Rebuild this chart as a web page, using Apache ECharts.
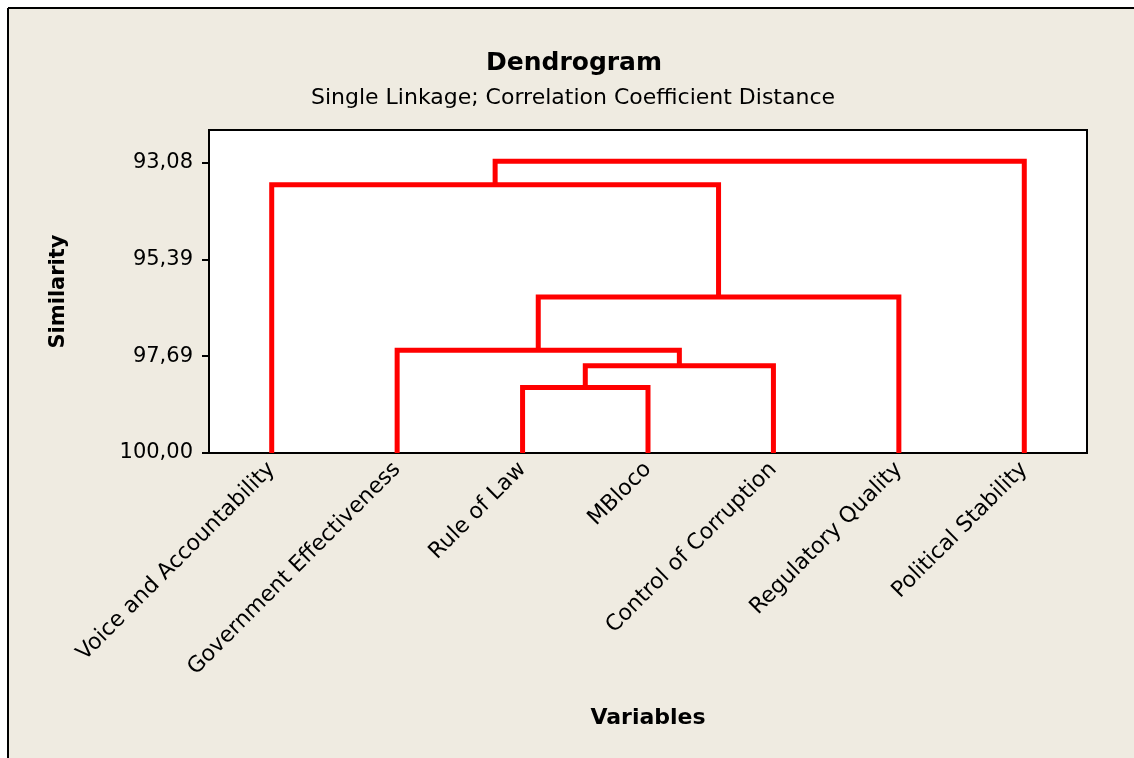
<!DOCTYPE html>
<html>
<head>
<meta charset="utf-8">
<title>Dendrogram</title>
<script src="https://cdn.jsdelivr.net/npm/echarts@6.0.0/dist/echarts.min.js"></script>
<style>
    html, body { margin: 0; padding: 0; background: #fff; }
    #chart { width: 1134px; height: 758px; }
</style>
</head>
<body>
<div id="chart"></div>
<script>
// variables, in dendrogram order
var leaves = ['Voice and Accountability', 'Government Effectiveness', 'Rule of Law', 'MBloco',
    'Control of Corruption', 'Regulatory Quality', 'Political Stability'];

// similarity axis ticks
var tickValues = [93.08, 95.39, 97.69, 100.00];

// merge steps: node ids 0-6 are leaves, 7.. are the merges in this order
var mergeLeft = [2, 7, 1, 9, 0, 11];
var mergeRight = [3, 4, 8, 5, 10, 6];
var mergeSimilarity = [98.44, 97.92, 97.55, 96.28, 93.60, 93.04];

var leafSimilarity = 100;
var axisTop = 92.293;

var dendro_chart = function () {

    var chart;

    // position and height of every node, then one link per merge
    var buildLinks = function () {
        var nodeX = [], nodeH = [], links = [];
        leaves.forEach(function (name, i) {
            nodeX.push(i);
            nodeH.push(leafSimilarity);
        });
        mergeSimilarity.forEach(function (h, k) {
            var l = mergeLeft[k], r = mergeRight[k];
            links.push([nodeX[l], nodeH[l], nodeX[r], nodeH[r], h]);
            nodeX.push((nodeX[l] + nodeX[r]) / 2);
            nodeH.push(h);
        });
        return links;
    };

    var fmt = function (v) {
        return v.toFixed(2).replace('.', ',');
    };

    var option = {
        backgroundColor: '#EFEBE1',
        animation: false,
        textStyle: {
            fontFamily: 'DejaVu Sans',
            color: '#000'
        },
        title: [
            {
                text: 'Dendrogram',
                left: 574,
                top: 51,
                padding: 0,
                textAlign: 'center',
                textStyle: {
                    fontFamily: 'DejaVu Sans',
                    fontSize: 25,
                    fontWeight: 'bold',
                    color: '#000'
                }
            },
            {
                text: 'Single Linkage; Correlation Coefficient Distance',
                left: 573,
                top: 87,
                padding: 0,
                textAlign: 'center',
                textStyle: {
                    fontFamily: 'DejaVu Sans',
                    fontSize: 22,
                    fontWeight: 'normal',
                    color: '#000'
                }
            }
        ],
        graphic: [
            // white margin and black frame at top / left
            {type: 'rect', shape: {x: 0, y: 0, width: 8, height: 758}, style: {fill: '#fff'}, silent: true},
            {type: 'rect', shape: {x: 0, y: 0, width: 1134, height: 8}, style: {fill: '#fff'}, silent: true},
            {type: 'line', shape: {x1: 8, y1: 8, x2: 8, y2: 758}, style: {stroke: '#000', lineWidth: 2}, silent: true},
            {type: 'line', shape: {x1: 8, y1: 8, x2: 1134, y2: 8}, style: {stroke: '#000', lineWidth: 2}, silent: true}
        ],
        grid: {
            left: 209,
            top: 130,
            right: 47,
            bottom: 305,
            show: true,
            backgroundColor: '#fff',
            borderColor: '#000',
            borderWidth: 2
        },
        xAxis: [
            {
                type: 'category',
                data: leaves,
                boundaryGap: true,
                name: 'Variables',
                nameLocation: 'middle',
                nameGap: 254,
                nameTextStyle: {
                    fontFamily: 'DejaVu Sans',
                    fontSize: 22,
                    fontWeight: 'bold',
                    color: '#000'
                },
                axisLine: {onZero: false, lineStyle: {color: '#000', width: 2}},
                axisTick: {alignWithLabel: true, length: 10, lineStyle: {color: '#000', width: 2}},
                axisLabel: {
                    rotate: 45,
                    margin: 13,
                    interval: 0,
                    fontFamily: 'DejaVu Sans',
                    fontSize: 22,
                    color: '#000'
                },
                splitLine: {show: false}
            },
            {
                type: 'value',
                min: -0.5,
                max: leaves.length - 0.5,
                show: false
            }
        ],
        yAxis: {
            type: 'value',
            inverse: true,
            min: axisTop,
            max: leafSimilarity,
            name: 'Similarity',
            nameLocation: 'middle',
            nameGap: 140,
            nameTextStyle: {
                fontFamily: 'DejaVu Sans',
                fontSize: 21,
                fontWeight: 'bold',
                color: '#000'
            },
            axisLine: {show: true, onZero: false, lineStyle: {color: '#000', width: 2}},
            axisTick: {show: true, length: 7, customValues: tickValues, lineStyle: {color: '#000', width: 2}},
            axisLabel: {
                margin: 16,
                customValues: tickValues,
                fontFamily: 'DejaVu Sans',
                fontSize: 21,
                color: '#000',
                formatter: fmt
            },
            splitLine: {show: false}
        },
        series: [
            {
                type: 'custom',
                xAxisIndex: 1,
                yAxisIndex: 0,
                data: buildLinks(),
                encode: {x: [0, 2], y: [1, 3, 4]},
                renderItem: function (params, api) {
                    var a = api.coord([api.value(0), api.value(1)]);
                    var b = api.coord([api.value(0), api.value(4)]);
                    var c = api.coord([api.value(2), api.value(4)]);
                    var d = api.coord([api.value(2), api.value(3)]);
                    return {
                        type: 'polyline',
                        shape: {points: [a, b, c, d]},
                        style: {stroke: '#FF0000', lineWidth: 5, fill: null, lineJoin: 'miter'}
                    };
                },
                z: 3
            }
        ]
    };

    return {
        init: function () {
            chart = echarts.init(document.getElementById('chart'));
            chart.setOption(option);
        }
    };
}();

dendro_chart.init();
</script>
</body>
</html>
